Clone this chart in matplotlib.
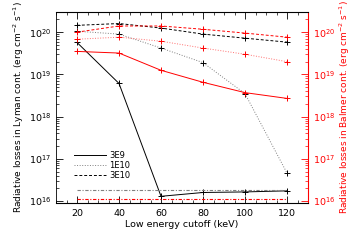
import matplotlib
matplotlib.use("Agg")
import matplotlib.pyplot as plt

# low energy cutoff (keV)
cutoff = [20, 40, 60, 80, 100, 120]

# Lyman continuum losses (left axis), one per flux
lyman_3e9 = [5.7e19, 6.1e18, 1.3e16, 1.6e16, 1.65e16, 1.75e16]
lyman_1e10 = [1.05e20, 9.0e19, 4.2e19, 1.9e19, 3.5e18, 4.6e16]
lyman_3e10 = [1.45e20, 1.6e20, 1.25e20, 9.0e19, 7.2e19, 5.8e19]

# Balmer continuum losses (right axis)
balmer_3e9 = [3.5e19, 3.2e19, 1.25e19, 6.5e18, 3.7e18, 2.7e18]
balmer_1e10 = [6.8e19, 7.6e19, 6.1e19, 4.2e19, 3.0e19, 2.0e19]
balmer_3e10 = [1.0e20, 1.4e20, 1.4e20, 1.17e20, 9.5e19, 7.6e19]

# reference levels (dash-dot)
lyman_ref = 1.8e16
balmer_ref = 1.1e16

labels = ['3E9', '1E10', '3E10']

plt.rcParams['font.size'] = 6.8

fig = plt.figure(figsize=(3.59, 2.40), dpi=100)
ax = fig.add_axes([0.156, 0.154, 0.702, 0.796])
ax2 = ax.twinx()

ax.plot(cutoff, lyman_3e9, color='black', lw=0.7, marker='+', ms=5, mew=0.7, label=labels[0])
ax.plot(cutoff, lyman_1e10, color='gray', ls=':', lw=0.7, marker='+', ms=5, mew=0.7,
        mec='black', label=labels[1])
ax.plot(cutoff, lyman_3e10, color='black', ls='--', lw=0.7, marker='+', ms=5, mew=0.7,
        dashes=(3, 2), label=labels[2])
ax.plot([cutoff[0], cutoff[-1]], [lyman_ref, lyman_ref], color='gray', lw=0.8,
        ls=(0, (3, 1.5, 1, 1.5)))

ax2.plot(cutoff, balmer_3e9, color='red', lw=0.7, marker='+', ms=5, mew=0.7)
ax2.plot(cutoff, balmer_1e10, color='#ff7070', ls=':', lw=0.7, marker='+', ms=5, mew=0.7,
         mec='red')
ax2.plot(cutoff, balmer_3e10, color='red', ls='--', lw=0.7, marker='+', ms=5, mew=0.7,
         dashes=(3, 2))
ax2.plot([cutoff[0], cutoff[-1]], [balmer_ref, balmer_ref], color='red', lw=0.8,
         ls=(0, (3, 1.5, 1, 1.5)))

for a in (ax, ax2):
    a.set_yscale('log')
    a.set_ylim(9e15, 3e20)
    a.set_xlim(10, 130)

ax.set_xticks([20, 40, 60, 80, 100, 120])
ax.set_xticks(range(10, 131, 5), minor=True)
ax.tick_params(axis='x', which='both', direction='in', top=True, pad=4)
ax.tick_params(axis='x', which='major', length=5, width=0.6)
ax.tick_params(axis='x', which='minor', length=2.5, width=0.5)
ax.tick_params(axis='y', which='major', direction='in', length=5, width=0.6)
ax.tick_params(axis='y', which='minor', direction='in', length=2.5, width=0.5)
ax2.tick_params(axis='y', which='major', direction='in', length=5, width=0.6,
                colors='red')
ax2.tick_params(axis='y', which='minor', direction='in', length=2.5, width=0.5,
                colors='red')

for s in ax.spines.values():
    s.set_linewidth(0.6)
ax2.spines['right'].set_color('red')
ax2.spines['right'].set_linewidth(0.8)
ax2.spines['left'].set_visible(False)

ax.set_xlabel('Low energy cutoff (keV)', fontsize=6.8, labelpad=2)
ax.set_ylabel('Radiative losses in Lyman cont. (erg cm$^{-2}$ s$^{-1}$)', fontsize=6.5,
              labelpad=2)
ax2.set_ylabel('Radiative losses in Balmer cont. (erg cm$^{-2}$ s$^{-1}$)', fontsize=6.5,
               color='red', labelpad=2)

leg = ax.legend(loc='lower left', bbox_to_anchor=(0.04, 0.08), frameon=False,
                fontsize=6, handlelength=3.9, handletextpad=0.4, labelspacing=0.12)
for h in leg.legend_handles:
    h.set_marker('')
    h.set_color('black')
leg.legend_handles[1].set_color('gray')

fig.savefig('out.png', dpi=100)
